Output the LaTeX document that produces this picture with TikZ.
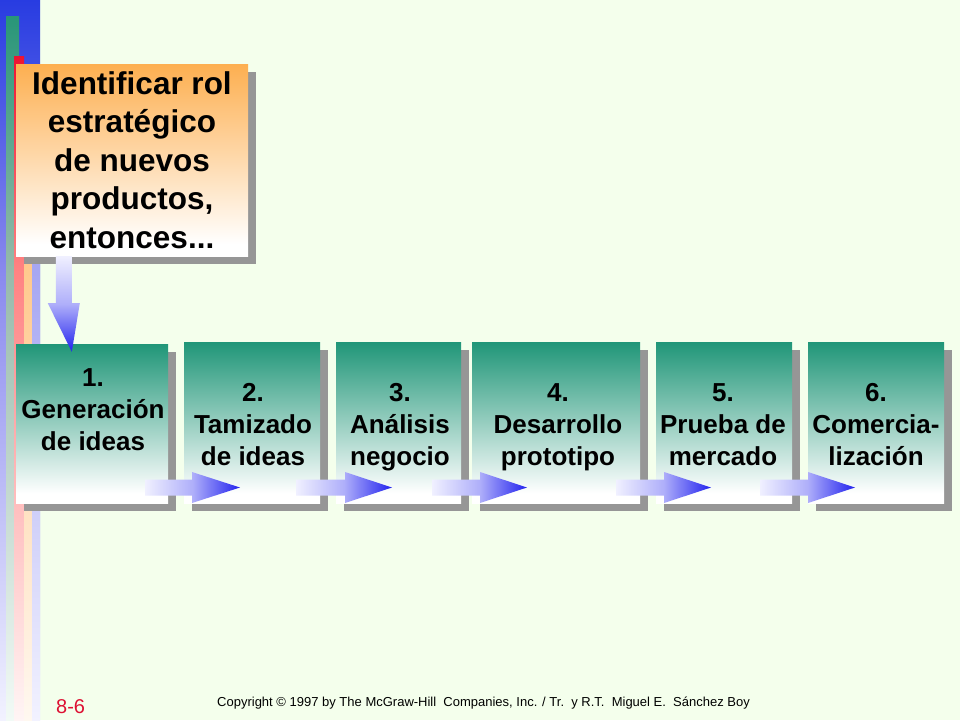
\documentclass[tikz,border=0pt]{standalone}
\usepackage{fontspec}
\setmainfont{Liberation Sans}
\usetikzlibrary{shadows,calc}
\definecolor{bg}{RGB}{244,255,236}
\definecolor{stepteal}{RGB}{32,150,120}
\definecolor{goalorange}{RGB}{253,175,80}
\definecolor{shadowgray}{RGB}{150,150,150}
\definecolor{arrowlight}{RGB}{240,240,255}
\definecolor{arrowmid}{RGB}{175,175,250}
\definecolor{arrowblue}{RGB}{35,35,238}
\definecolor{pagered}{RGB}{221,17,51}
\definecolor{barblue}{RGB}{40,60,225}
\definecolor{barbluem}{RGB}{138,138,238}
\definecolor{barbluee}{RGB}{242,242,255}
\definecolor{barteal}{RGB}{40,150,120}
\definecolor{bartealm}{RGB}{150,185,170}
\definecolor{bartealle}{RGB}{242,250,246}
\definecolor{barred}{RGB}{238,20,50}
\definecolor{barredm}{RGB}{255,130,130}
\definecolor{barrede}{RGB}{255,245,245}
\definecolor{barorange}{RGB}{255,175,90}
\definecolor{barorangem}{RGB}{255,200,140}
\definecolor{baroragee}{RGB}{255,248,240}
\definecolor{barlav}{RGB}{120,120,238}
\definecolor{barlavm}{RGB}{165,165,242}
\definecolor{barlave}{RGB}{242,242,255}
\pgfdeclareverticalshading{stepshade}{100bp}{color(0bp)=(white); color(28bp)=(white); color(75bp)=(stepteal); color(100bp)=(stepteal)}
\pgfdeclareverticalshading{goalshade}{100bp}{color(0bp)=(white); color(28bp)=(white); color(75bp)=(goalorange); color(100bp)=(goalorange)}
\pgfdeclarehorizontalshading{arrowshade}{100bp}{color(0bp)=(arrowlight); color(25bp)=(arrowlight); color(50bp)=(arrowmid); color(75bp)=(arrowblue); color(100bp)=(arrowblue)}
\pgfdeclareverticalshading{downshade}{100bp}{color(0bp)=(arrowblue); color(25bp)=(arrowblue); color(50bp)=(arrowmid); color(75bp)=(arrowlight); color(100bp)=(arrowlight)}
\pgfdeclareverticalshading{blueshade}{100bp}{color(0bp)=(barbluee); color(25bp)=(barbluee); color(56bp)=(barbluem); color(75bp)=(barblue); color(100bp)=(barblue)}
\pgfdeclareverticalshading{tealshade}{100bp}{color(0bp)=(bartealle); color(25bp)=(bartealle); color(57bp)=(bartealm); color(75bp)=(barteal); color(100bp)=(barteal)}
\pgfdeclareverticalshading{redshade}{100bp}{color(0bp)=(barrede); color(25bp)=(barrede); color(59bp)=(barredm); color(75bp)=(barred); color(100bp)=(barred)}
\pgfdeclareverticalshading{orangeshade}{100bp}{color(0bp)=(baroragee); color(25bp)=(baroragee); color(60bp)=(barorangem); color(75bp)=(barorange); color(100bp)=(barorange)}
\pgfdeclareverticalshading{lavshade}{100bp}{color(0bp)=(barlave); color(25bp)=(barlave); color(60bp)=(barlavm); color(75bp)=(barlav); color(100bp)=(barlav)}
\newcommand{\fatarrowh}[4]{%
  \path[shading=arrowshade] (#1,#4-8) -- (#2,#4-8) -- (#2,#4-15.5) -- (#3,#4)
    -- (#2,#4+15.5) -- (#2,#4+8) -- (#1,#4+8) -- cycle;}
\begin{document}
\begin{tikzpicture}[x=1pt,y=-1pt,
  boxshadow/.style={drop shadow={shadow xshift=8pt, shadow yshift=-8pt, fill=shadowgray, opacity=1}},
  goalbox/.style={rectangle, inner sep=0pt, minimum width=232pt, minimum height=192pt,
    shading=goalshade, boxshadow, align=center,
    font=\fontsize{31.5}{38.5}\selectfont\bfseries},
  stepbox/.style={rectangle, inner sep=0pt, minimum height=161pt,
    shading=stepshade, boxshadow},
  steptext/.style={inner sep=0pt, align=center, font=\fontsize{26}{32}\selectfont\bfseries},
  foot/.style={inner sep=0pt, anchor=base west}]
\fill[bg] (0,0) rectangle (960,720);
\useasboundingbox (0,0) rectangle (960,720);
% left decoration bars
\path[shading=blueshade] (0,0) rectangle (40,720);
\path[shading=tealshade] (6,16) rectangle (19,720);
\path[shading=redshade] (14,56) rectangle (24,720);
\path[shading=orangeshade] (24,64) rectangle (32,720);
\path[shading=lavshade] (32,64) rectangle (40,720);
% goal box
\node[goalbox] (goal) at (132,160) {Identificar rol\\estratégico\\de nuevos\\productos,\\entonces...};
% step boxes
\node[stepbox, minimum width=152pt, minimum height=159pt] (s1) at (92,423.5) {};
\node[stepbox, minimum width=136pt] (s2) at (252,422.5) {};
\node[stepbox, minimum width=125pt] (s3) at (398.5,422.5) {};
\node[stepbox, minimum width=168pt] (s4) at (556,422.5) {};
\node[stepbox, minimum width=136pt] (s5) at (724,422.5) {};
\node[stepbox, minimum width=136pt] (s6) at (876,422.5) {};
\node[steptext] (t1) at (93,410) {1.\\Generación\\de ideas};
\node[steptext] (t2) at (253,425) {2.\\Tamizado\\de ideas};
\node[steptext] (t3) at (400,427) {3.\\Análisis\\negocio};
\node[steptext] (t4) at (558,427) {4.\\Desarrollo\\prototipo};
\node[steptext] (t5) at (723,425) {5.\\Prueba de\\mercado};
\node[steptext] (t6) at (876,425) {6.\\Comercia-\\lización};
% down arrow from goal to step 1
\coordinate (dstart) at ($(goal.south west)+(48,0)$);
\path[shading=downshade] ($(dstart)+(-8,0)$) -- ($(dstart)+(8,0)$) -- ($(dstart)+(8,47)$)
  -- ($(dstart)+(16,47)$) -- ($(s1.north west)+(56,8)$) -- ($(dstart)+(-16,47)$)
  -- ($(dstart)+(-8,47)$) -- cycle;
% arrows between steps
\fatarrowh{145}{192}{240}{487.5}
\fatarrowh{296}{345}{392}{487.5}
\fatarrowh{432}{480}{527}{487.5}
\fatarrowh{616}{664}{711}{487.5}
\fatarrowh{760}{808}{855}{487.5}
% footer
\node[foot, text=pagered, font=\fontsize{20}{24}\selectfont] (page) at (56,713) {8-6};
\node[foot, font=\fontsize{13}{16}\selectfont] (copy) at (217,706) {Copyright © 1997 by The McGraw-Hill\ \ Companies, Inc. / Tr.\ \ y R.T.\ \ Miguel E.\ \ Sánchez Boy};
\end{tikzpicture}
\end{document}
